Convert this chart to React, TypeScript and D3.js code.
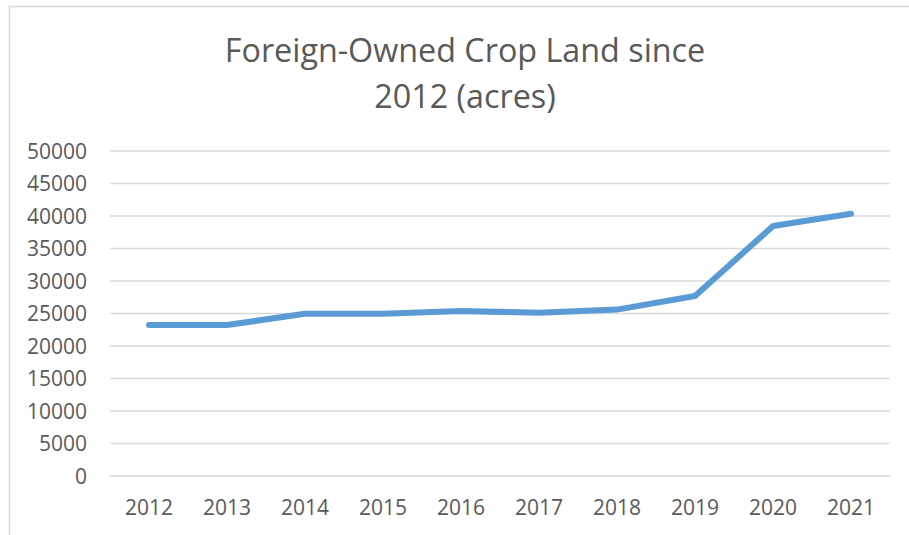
import React from "react";
import * as d3 from "d3";

const years = ["2012", "2013", "2014", "2015", "2016", "2017", "2018", "2019", "2020", "2021"];
const acres = [23230, 23230, 24950, 24950, 25400, 25100, 25600, 27700, 38450, 40350];
const yTicks = [0, 5000, 10000, 15000, 20000, 25000, 30000, 35000, 40000, 45000, 50000];
const titleLines = ["Foreign-Owned Crop Land since", "2012 (acres)"];

const W = 909;
const H = 535;
const left = 110;
const right = 890;
const top = 151;
const bottom = 476;
const font = "'Open Sans', 'Noto Sans', sans-serif";
const textColor = "#595959";

export default function App() {
  const x = d3.scalePoint<string>().domain(years).range([left, right]).padding(0.5);
  const y = d3.scaleLinear().domain([0, 50000]).range([bottom, top]);
  const line = d3
    .line<number>()
    .x((_, i) => x(years[i]) as number)
    .y((d) => y(d));

  return (
    <svg
      width={W}
      height={H}
      style={{ position: "absolute", left: 0, top: 0, background: "#fff" }}
      fontFamily={font}
    >
      <rect x={9.5} y={6.5} width={W + 10} height={H + 10} fill="#fff" stroke="#d9d9d9" strokeWidth={1.5} />
      {titleLines.map((t, i) => (
        <text key={t} x={465} y={62 + i * 46} textAnchor="middle" fontSize={32.3} fill={textColor}>
          {t}
        </text>
      ))}
      {yTicks.map((t) => (
        <g key={t}>
          <line x1={left} x2={right} y1={y(t)} y2={y(t)} stroke="#d9d9d9" strokeWidth={1.5} />
          <text x={87} y={y(t)} dy="0.36em" textAnchor="end" fontSize={21} fill={textColor}>
            {t}
          </text>
        </g>
      ))}
      {years.map((yr) => (
        <text key={yr} x={x(yr)} y={515} textAnchor="middle" fontSize={21} fill={textColor}>
          {yr}
        </text>
      ))}
      <path
        d={line(acres) || ""}
        fill="none"
        stroke="#5b9bd5"
        strokeWidth={6}
        strokeLinecap="round"
        strokeLinejoin="round"
      />
    </svg>
  );
}
